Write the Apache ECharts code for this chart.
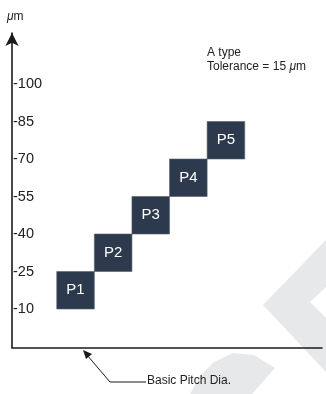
<!DOCTYPE html>
<html>
<head>
<meta charset="utf-8">
<script src="https://cdn.jsdelivr.net/npm/echarts@6/dist/echarts.min.js"></script>
<style>
html,body{margin:0;padding:0;background:#fff;}
#chart{width:326px;height:394px;}
</style>
</head>
<body>
<div id="chart"></div>
<script>
// ---- data ----
const categories = ['P1', 'P2', 'P3', 'P4', 'P5'];
const lowValues  = [10, 25, 40, 55, 70];
const highValues = [25, 40, 55, 70, 85];
const tickLabels = [10, 25, 40, 55, 70, 85, 100];

// ---- layout constants ----
const FONT = '"Liberation Sans", Arial, Helvetica, sans-serif';
const X_OFFSET = 1.19;   // first box start (in box widths from axis)
const X_MAX = 8.245;     // axis length in box widths
const BOX_FILL = '#2d3a4d';

const chart = echarts.init(document.getElementById('chart'), null, {renderer: 'canvas'});

const seriesData = categories.map((c, i) => [i, lowValues[i], highValues[i], c]);

const option = {
  animation: false,
  backgroundColor: '#fff',
  grid: {left: 12, right: 4, top: 33, bottom: 46.5},
  xAxis: {
    type: 'value', min: 0, max: X_MAX,
    axisLine: {show: true, onZero: false, lineStyle: {color: '#1a1a1a', width: 1.6}},
    axisTick: {show: false}, axisLabel: {show: false}, splitLine: {show: false}
  },
  yAxis: {
    type: 'value', min: -5.4, max: 120.4,
    axisLine: {show: true, onZero: false, symbol: ['none', 'arrow'], symbolSize: [10, 13],
      lineStyle: {color: '#1a1a1a', width: 1.6}},
    axisTick: {show: false},
    splitLine: {show: false},
    axisLabel: {
      show: true, inside: true, margin: 1,
      customValues: tickLabels,
      formatter: v => '-' + v,
      fontFamily: FONT, fontSize: 14.5, color: '#222'
    }
  },
  graphic: [
    // watermark shapes
    {type: 'polygon', z: -10, silent: true,
      shape: {points: [[326,240],[263,305],[326,372],[326,318],[310,302],[326,287]]},
      style: {fill: '#e7e8e9'}},
    {type: 'polygon', z: -10, silent: true,
      shape: {points: [[190,394],[200,376],[214,362],[233,353],[254,355],[275,368],[252,394]]},
      style: {fill: '#e7e8e9'}},
    // axis unit label
    {type: 'text', left: 7, top: 11,
      style: {text: '{i|μ}m', font: '12px ' + FONT, fill: '#222',
        rich: {i: {fontStyle: 'italic', fontSize: 12, fontFamily: FONT}}}},
    // note
    {type: 'text', left: 207, top: 46,
      style: {text: 'A type\nTolerance = 15 {i|μ}m', font: '12px ' + FONT, fill: '#222', lineHeight: 14,
        rich: {i: {fontStyle: 'italic', fontSize: 12, fontFamily: FONT, lineHeight: 14}}}},
    // annotation
    {type: 'polyline', silent: true,
      shape: {points: [[146,382],[110,382],[87,355]]},
      style: {stroke: '#1a1a1a', lineWidth: 1, fill: null}},
    {type: 'polygon', silent: true,
      shape: {points: [[83,350],[92,354],[86,359]]},
      style: {fill: '#1a1a1a'}},
    {type: 'text', left: 147, top: 375,
      style: {text: 'Basic Pitch Dia.', font: '12px ' + FONT, fill: '#222'}}
  ],
  series: [{
    type: 'custom',
    data: seriesData,
    encode: {x: 0, y: [1, 2]},
    renderItem: function (params, api) {
      const i = api.value(0);
      const lo = api.value(1);
      const hi = api.value(2);
      const p0 = api.coord([i + X_OFFSET, hi]);
      const p1 = api.coord([i + X_OFFSET + 1, lo]);
      return {
        type: 'rect',
        shape: {x: p0[0], y: p0[1], width: p1[0] - p0[0], height: p1[1] - p0[1]},
        style: {fill: BOX_FILL, stroke: '#566171', lineWidth: 0.6},
        textContent: {
          style: {text: categories[i], fill: '#fff', font: '15px ' + FONT}
        },
        textConfig: {position: 'inside'}
      };
    }
  }]
};
chart.setOption(option);
</script>
</body>
</html>
